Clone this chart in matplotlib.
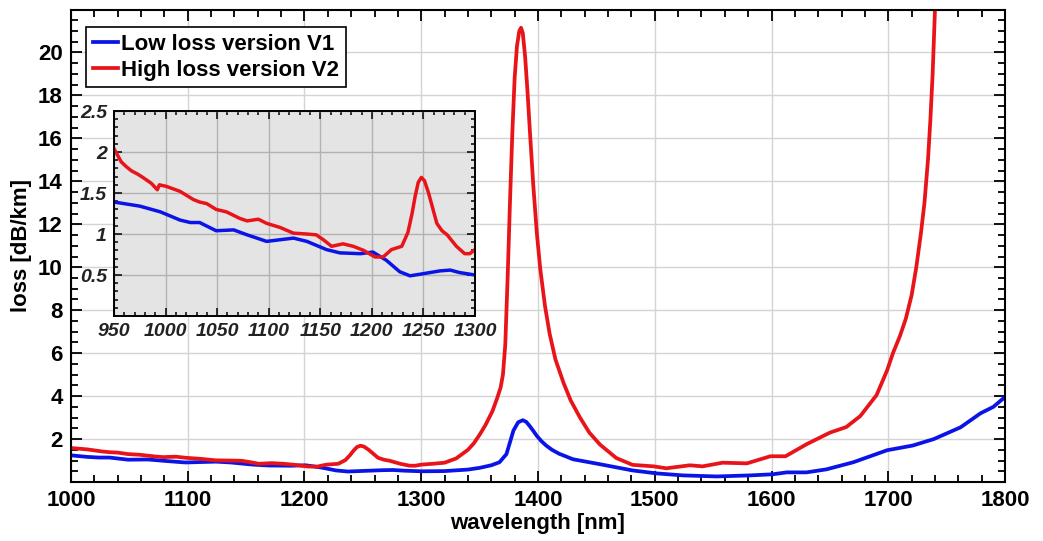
import numpy as np
import matplotlib.pyplot as plt
import matplotlib as mpl
from matplotlib.ticker import MultipleLocator

mpl.rcParams.update({
    'font.family': 'Liberation Sans', 'font.weight': 'bold', 'font.size': 16,
    'axes.labelweight': 'bold',
})

# ---- data ----
wl_v1 = [950, 975, 995, 1014, 1024, 1033, 1049, 1066, 1079, 1098, 1111, 1124, 1137,
         1156, 1169, 1189, 1201, 1214, 1227, 1237, 1247, 1266, 1276, 1285, 1300,
         1320, 1340, 1350, 1360, 1367, 1373, 1376, 1379, 1383, 1387, 1390, 1393,
         1396, 1399, 1403, 1407, 1412, 1418, 1430, 1453, 1481, 1502, 1524, 1553,
         1582, 1601, 1613, 1630, 1647, 1670, 1699, 1721, 1739, 1762, 1779, 1790, 1800]
loss_v1 = [1.39, 1.34, 1.27, 1.17, 1.14, 1.14, 1.04, 1.05, 0.99, 0.91, 0.93, 0.95, 0.91,
           0.81, 0.77, 0.76, 0.78, 0.68, 0.54, 0.49, 0.51, 0.55, 0.56, 0.53, 0.50,
           0.51, 0.58, 0.66, 0.78, 0.92, 1.30, 1.85, 2.40, 2.78, 2.88, 2.80, 2.60,
           2.38, 2.15, 1.90, 1.70, 1.50, 1.32, 1.06, 0.83, 0.54, 0.40, 0.31, 0.26,
           0.31, 0.36, 0.45, 0.45, 0.59, 0.92, 1.48, 1.70, 2.00, 2.55, 3.20, 3.50, 3.96]

wl_v2 = [950, 957, 962, 967, 973, 978, 986, 992, 994, 1001, 1014, 1027, 1033, 1040, 1049, 1059,
         1072, 1079, 1090, 1098, 1111, 1124, 1137, 1146, 1153, 1161, 1172, 1182,
         1192, 1203, 1211, 1219, 1229, 1235, 1239, 1242, 1245, 1248, 1251, 1255, 1263, 1268,
         1273, 1282, 1290, 1295, 1300, 1310, 1320, 1330, 1340, 1345, 1350, 1355, 1361, 1365,
         1368, 1370, 1372, 1374, 1376, 1378, 1380, 1382, 1384, 1385.5, 1387, 1389,
         1391, 1393, 1396, 1399, 1402, 1406, 1410, 1415, 1422, 1428, 1436, 1444,
         1453, 1467, 1481, 1499, 1510, 1530, 1541, 1558, 1579, 1599, 1612,
         1630, 1650, 1664, 1676, 1690, 1699, 1704, 1710, 1715, 1720, 1724, 1728,
         1731, 1734, 1736, 1738, 1740, 1742]
loss_v2 = [2.04, 1.88, 1.82, 1.77, 1.73, 1.69, 1.62, 1.54, 1.60, 1.58, 1.52, 1.42, 1.39, 1.37, 1.30, 1.27,
           1.19, 1.16, 1.18, 1.13, 1.08, 1.01, 1.00, 0.99, 0.93, 0.85, 0.88, 0.85,
           0.80, 0.72, 0.72, 0.81, 0.85, 1.02, 1.25, 1.46, 1.63, 1.69, 1.65, 1.50, 1.13, 1.04,
           0.99, 0.85, 0.76, 0.76, 0.81, 0.85, 0.90, 1.10, 1.50, 1.80, 2.20, 2.65, 3.30, 3.90,
           4.40, 5.00, 6.40, 9.50, 13.0, 16.2, 18.8, 20.3, 21.0, 21.15, 20.9, 19.8,
           18.2, 16.4, 13.8, 11.6, 9.9, 8.2, 6.9, 5.7, 4.6, 3.8, 3.0, 2.3,
           1.75, 1.12, 0.80, 0.73, 0.64, 0.78, 0.73, 0.90, 0.87, 1.20, 1.20,
           1.76, 2.30, 2.56, 3.07, 4.05, 5.20, 6.00, 6.80, 7.60, 8.70, 10.0, 11.6,
           13.0, 15.0, 16.8, 19.0, 22.0, 25.0]

BLUE = '#0a14e6'
RED = '#e8141a'

fig = plt.figure(figsize=(10.43, 5.41), dpi=100)
ax = fig.add_axes([0.068, 0.109, 0.8956, 0.8734])

ax.plot(wl_v1, loss_v1, color=BLUE, lw=2.7, label='Low loss version V1')
ax.plot(wl_v2, loss_v2, color=RED, lw=2.7, label='High loss version V2')
ax.set_xlim(1000, 1800)
ax.set_ylim(0, 22)
ax.set_xticks(np.arange(1000, 1801, 100))
ax.set_yticks(np.arange(2, 21, 2))
ax.xaxis.set_minor_locator(MultipleLocator(20))
ax.yaxis.set_minor_locator(MultipleLocator(0.5))
ax.tick_params(which='both', direction='in', top=True, right=True, width=1.3)
ax.tick_params(which='major', length=8, pad=6)
ax.tick_params(which='minor', length=5)
ax.grid(True, which='major', color='#d4d4d4', lw=1.0)
ax.set_axisbelow(True)
for s in ax.spines.values():
    s.set_linewidth(1.5)
ax.set_xlabel('wavelength [nm]', labelpad=1)
ax.set_ylabel('loss [dB/km]', labelpad=4)

leg = ax.legend(loc='upper left', bbox_to_anchor=(0.016, 0.962), borderaxespad=0,
                handlelength=1.15, handletextpad=0.15, borderpad=0.3, labelspacing=0.2,
                fancybox=False, framealpha=1, edgecolor='black',
                prop={'weight': 'bold', 'size': 16})
leg.get_frame().set_linewidth(1.2)

# ---- inset ----
ins = fig.add_axes([0.1093, 0.4159, 0.3461, 0.3789])
ins.set_facecolor('#e4e4e4')
ins.plot(wl_v1, loss_v1, color=BLUE, lw=2.5)
ins.plot(wl_v2, loss_v2, color=RED, lw=2.5)
ins.set_xlim(950, 1300)
ins.set_ylim(0, 2.5)
ins.set_xticks(np.arange(950, 1301, 50))
ins.set_yticks([0.5, 1, 1.5, 2, 2.5])
ins.set_yticklabels(['0.5', '1', '1.5', '2', '2.5'])
ins.xaxis.set_minor_locator(MultipleLocator(10))
ins.yaxis.set_minor_locator(MultipleLocator(0.1))
ins.tick_params(which='both', direction='in', top=True, right=True, width=1.1,
                labelsize=14, pad=5)
ins.tick_params(which='major', length=6)
ins.tick_params(which='minor', length=3)
ins.grid(True, which='major', color='#b2b2b2', lw=1.0)
ins.set_axisbelow(True)
for lab in ins.get_xticklabels() + ins.get_yticklabels():
    lab.set_fontstyle('italic')
    lab.set_fontweight('bold')
    lab.set_color('#222222')
for s in ins.spines.values():
    s.set_linewidth(1.4)

fig.savefig('out.png', dpi=100)
